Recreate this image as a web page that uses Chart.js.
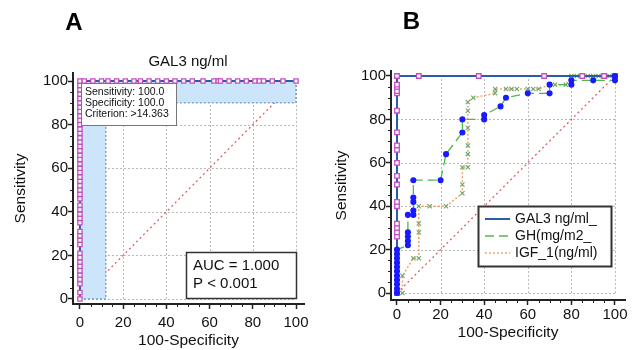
<!DOCTYPE html>
<html>
<head>
<meta charset="utf-8">
<script src="https://cdn.jsdelivr.net/npm/chart.js@4.4.1/dist/chart.umd.min.js"></script>
<style>
    body { margin: 0; background: #fff; width: 635px; height: 350px; overflow: hidden; position: relative; }
    canvas { position: absolute; top: 0; }
    #chartA { left: 0; }
    #chartB { left: 317px; }
</style>
</head>
<body>
<canvas id="chartA" width="317" height="350"></canvas>
<canvas id="chartB" width="318" height="350"></canvas>
<script>
const FONT = "'Liberation Sans', Arial, sans-serif";

const axisTicks = [0, 20, 40, 60, 80, 100];

// Panel A: GAL3 ng/ml ROC, first the vertical part (x = 0), then the top row (y = 100)
const gal3A_sens = [0, 3, 7, 9, 11, 13, 15, 17, 19, 21, 25, 27, 29, 31, 35, 37, 39, 41, 43, 46, 48, 50, 52, 54,
    56, 58, 60, 62, 64, 66, 68, 70, 72, 74, 76, 78, 80, 82, 84, 86, 88, 90, 92, 94, 96, 98];
const gal3A_fpr = [0, 2, 6, 10, 13, 17, 21, 25, 28, 32, 36, 40, 44, 48, 52, 57, 62, 64, 65, 69, 73, 77, 81, 83, 85, 89, 94, 100];

// Panel A: confidence region of the optimal cut-off
const ciX = [0, 12, 12, 100, 100, 0, 0];
const ciY = [0, 0, 90, 90, 100, 100, 0];

// Reference diagonal
const diagX = [0, 100];
const diagY = [0, 100];

// Panel B series
const gal3B_x = [0, 0, 0, 0, 0, 0, 0, 0, 0, 0, 0, 0, 0, 0, 0, 0, 0, 0, 0, 10, 37.5, 67.5, 85, 95, 100];
const gal3B_y = [0, 26, 28, 30, 32, 40, 42, 50, 54, 60, 66, 68, 74, 84, 92, 93, 95, 96, 100, 100, 100, 100, 100, 100, 100];

const ghB_x = [0, 0, 0, 0, 0, 0, 0, 0, 0, 0, 0, 5, 5, 5, 5, 5, 7.5, 7.5, 7.5, 7.5, 7.5, 20, 22.5, 30, 30,
    40, 40, 47.5, 50, 60, 70, 70, 80, 80, 90, 100, 100];
const ghB_y = [0, 2, 4, 6, 8, 10, 12, 14, 16, 18, 20, 22, 24, 26, 28, 36, 36, 38, 42, 44, 52, 52, 64, 74, 80,
    80, 82, 86, 90, 92, 92, 96, 96, 98, 98, 98, 100];

const igfB_x = [0, 2.5, 2.5, 7.5, 10, 10, 10, 10, 15, 22.5, 30, 30, 30, 32.5, 32.5, 32.5, 32.5, 32.5, 32.5, 35,
    45, 45, 50, 52.5, 55, 60, 62.5, 65, 70, 72.5, 77.5, 80, 82.5, 85, 87.5, 90, 92.5, 97.5, 100];
const igfB_y = [0, 0, 8, 16, 16, 28, 32, 40, 40, 40, 46, 50, 58, 58, 64, 68, 76, 84, 88, 90,
    92, 94, 94, 94, 94, 94, 94, 94, 96, 96, 96, 100, 100, 100, 100, 100, 100, 100, 100];

const seriesNamesB = ['GAL3 ng/ml_', 'GH(mg/m2_', 'IGF_1(ng/ml)'];

function toPoints(xs, ys) {
    return xs.map((x, i) => ({ x: x, y: ys[i] }));
}

const BLUE_LINE = '#2b5ca8';
const MAGENTA = '#c44cc4';
const TEXT = '#111';

// grid, minor ticks, panel letter, title, text boxes
const panelDeco = {
    id: 'panelDeco',
    beforeDatasetsDraw(chart, args, opts) {
        const ctx = chart.ctx;
        const xs = chart.scales.x, ys = chart.scales.y;
        const area = chart.chartArea;
        ctx.save();
        ctx.strokeStyle = '#b8b8b8';
        ctx.lineWidth = 1;
        ctx.setLineDash([2, 2]);
        [20, 40, 60, 80, 100].forEach(v => {
            const px = Math.round(xs.getPixelForValue(v)) + 0.5;
            ctx.beginPath();
            ctx.moveTo(px, ys.getPixelForValue(0));
            ctx.lineTo(px, ys.getPixelForValue(100));
            ctx.stroke();
        });
        [0, 20, 40, 60, 80].forEach(v => {
            const py = Math.round(ys.getPixelForValue(v)) + 0.5;
            ctx.beginPath();
            ctx.moveTo(xs.getPixelForValue(0), py);
            ctx.lineTo(xs.getPixelForValue(100), py);
            ctx.stroke();
        });
        // minor ticks
        ctx.setLineDash([]);
        ctx.strokeStyle = '#222';
        for (let v = 5; v < 100; v += 5) {
            if (v % 20 === 0) continue;
            const px = Math.round(xs.getPixelForValue(v)) + 0.5;
            ctx.beginPath();
            ctx.moveTo(px, area.bottom);
            ctx.lineTo(px, area.bottom + 3);
            ctx.stroke();
            const py = Math.round(ys.getPixelForValue(v)) + 0.5;
            ctx.beginPath();
            ctx.moveTo(area.left, py);
            ctx.lineTo(area.left - 3, py);
            ctx.stroke();
        }
        ctx.restore();
    },
    afterDraw(chart, args, opts) {
        const ctx = chart.ctx;
        ctx.save();
        ctx.fillStyle = '#000';
        ctx.textBaseline = 'middle';
        ctx.textAlign = 'center';
        ctx.font = 'bold 24px ' + FONT;
        ctx.fillText(opts.letter, opts.letterX, opts.letterY);
        if (opts.title) {
            ctx.font = '15px ' + FONT;
            ctx.fillStyle = TEXT;
            ctx.fillText(opts.title, opts.titleX, opts.titleY);
        }
        ctx.textAlign = 'left';
        (opts.boxes || []).forEach(b => {
            ctx.fillStyle = '#fff';
            ctx.fillRect(b.left, b.top, b.right - b.left, b.bottom - b.top);
            ctx.strokeStyle = b.border;
            ctx.lineWidth = b.borderWidth;
            ctx.strokeRect(b.left + 0.5, b.top + 0.5, b.right - b.left, b.bottom - b.top);
            ctx.font = b.size + 'px ' + FONT;
            b.lines.forEach((t, i) => {
                ctx.fillStyle = TEXT;
                ctx.fillText(t, b.textX, b.rows[i]);
                if (b.samples) {
                    const s = b.samples[i];
                    ctx.strokeStyle = s.color;
                    ctx.lineWidth = s.width;
                    ctx.setLineDash(s.dash);
                    ctx.beginPath();
                    ctx.moveTo(b.sampleX0, b.rows[i]);
                    ctx.lineTo(b.sampleX1, b.rows[i]);
                    ctx.stroke();
                    ctx.setLineDash([]);
                }
            });
        });
        ctx.restore();
    }
};

function makeScales(L) {
    return {
        x: {
            type: 'linear',
            min: L.xMin,
            max: L.xMax,
            afterBuildTicks: s => { s.ticks = axisTicks.map(v => ({ value: v })); },
            afterFit: s => { s.height = L.xAxisH; },
            grid: { display: true, drawOnChartArea: false, drawTicks: true, tickLength: 5, tickColor: '#222', tickWidth: 1.5 },
            border: { display: true, color: '#222', width: 2 },
            ticks: { font: { family: FONT, size: 15 }, color: TEXT, padding: L.xPad, maxRotation: 0, autoSkip: false },
            title: { display: true, text: '100-Specificity', font: { family: FONT, size: 15.5 }, color: TEXT, padding: { top: 0, bottom: L.xTitlePad } }
        },
        y: {
            type: 'linear',
            min: L.yMin,
            max: L.yMax,
            afterBuildTicks: s => { s.ticks = axisTicks.map(v => ({ value: v })); },
            afterFit: s => { s.width = L.yAxisW; },
            grid: { display: true, drawOnChartArea: false, drawTicks: true, tickLength: 5, tickColor: '#222', tickWidth: 1.5 },
            border: { display: true, color: '#222', width: 2 },
            ticks: { font: { family: FONT, size: 15 }, color: TEXT, padding: 0, autoSkip: false },
            title: { display: true, text: 'Sensitivity', font: { family: FONT, size: 15.5 }, color: TEXT, padding: { top: L.yTitlePad, bottom: 0 } }
        }
    };
}

const diagDataset = {
    label: 'diag',
    data: toPoints(diagX, diagY),
    borderColor: '#dd5555',
    borderWidth: 1.2,
    borderDash: [2, 3],
    pointRadius: 0,
    fill: false
};

// Panel A
const gal3A_points = gal3A_sens.map(y => ({ x: 0, y: y })).concat(gal3A_fpr.map(x => ({ x: x, y: 100 })));

new Chart(document.getElementById('chartA'), {
    type: 'line',
    data: {
        datasets: [
            {
                label: 'GAL3 ng/ml',
                data: gal3A_points,
                borderColor: BLUE_LINE,
                borderWidth: 2,
                pointStyle: 'rect',
                pointRadius: 3,
                pointBorderColor: MAGENTA,
                pointBackgroundColor: '#fff',
                pointBorderWidth: 1.3,
                fill: false
            },
            {
                label: 'ci',
                data: toPoints(ciX, ciY),
                borderColor: '#4b7fc8',
                borderWidth: 1,
                borderDash: [2, 2],
                backgroundColor: '#cde5fb',
                pointRadius: 0,
                fill: 'shape'
            },
            diagDataset
        ]
    },
    options: {
        responsive: false,
        animation: false,
        devicePixelRatio: 1,
        layout: { padding: { left: 0, right: 13, top: 73, bottom: 0 } },
        scales: makeScales({ xMin: -3.2, xMax: 103.7, yMin: -2.3, yMax: 103.7, xAxisH: 46, yAxisW: 73, xPad: 5, xTitlePad: 0, yTitlePad: 11 }),
        plugins: {
            legend: { display: false },
            tooltip: { enabled: false },
            panelDeco: {
                letter: 'A', letterX: 74, letterY: 23,
                title: 'GAL3 ng/ml', titleX: 188, titleY: 62,
                boxes: [
                    {
                        left: 81, top: 83, right: 176, bottom: 125, border: '#777', borderWidth: 1,
                        size: 10.5, textX: 85, rows: [92, 103, 114],
                        lines: ['Sensitivity: 100.0', 'Specificity: 100.0', 'Criterion: >14.363']
                    },
                    {
                        left: 186, top: 252, right: 296, bottom: 298, border: '#333', borderWidth: 1.5,
                        size: 15, textX: 193, rows: [266, 284],
                        lines: ['AUC = 1.000', 'P < 0.001']
                    }
                ]
            }
        }
    },
    plugins: [panelDeco]
});

// Panel B
new Chart(document.getElementById('chartB'), {
    type: 'line',
    data: {
        datasets: [
            {
                label: seriesNamesB[1],
                data: toPoints(ghB_x, ghB_y),
                borderColor: '#4dba4d',
                borderWidth: 1.3,
                borderDash: [9, 5],
                pointStyle: 'circle',
                pointRadius: 2.4,
                pointBorderColor: '#1a1aff',
                pointBackgroundColor: '#1a1aff',
                fill: false
            },
            {
                label: seriesNamesB[0],
                data: toPoints(gal3B_x, gal3B_y),
                borderColor: BLUE_LINE,
                borderWidth: 2,
                pointStyle: 'rect',
                pointRadius: 3.2,
                pointBorderColor: MAGENTA,
                pointBackgroundColor: '#fff',
                pointBorderWidth: 1.3,
                fill: false
            },
            {
                label: seriesNamesB[2],
                data: toPoints(igfB_x, igfB_y),
                borderColor: '#f5a36a',
                borderWidth: 1.5,
                borderDash: [2, 2],
                pointStyle: 'crossRot',
                pointRadius: 3,
                pointBorderColor: '#6aa86a',
                pointBorderWidth: 1.1,
                fill: false
            },
            diagDataset
        ]
    },
    options: {
        responsive: false,
        animation: false,
        devicePixelRatio: 1,
        layout: { padding: { left: 0, right: 10, top: 71, bottom: 0 } },
        scales: makeScales({ xMin: -2.75, xMax: 104.6, yMin: -3.2, yMax: 102.3, xAxisH: 50, yAxisW: 74, xPad: 1, xTitlePad: 7.5, yTitlePad: 15.4 }),
        plugins: {
            legend: { display: false },
            tooltip: { enabled: false },
            panelDeco: {
                letter: 'B', letterX: 94.5, letterY: 22,
                boxes: [
                    {
                        left: 161, top: 206, right: 294, bottom: 266, border: '#333', borderWidth: 2,
                        size: 14, textX: 198, rows: [219, 236, 253],
                        lines: seriesNamesB,
                        sampleX0: 168, sampleX1: 193,
                        samples: [
                            { color: BLUE_LINE, width: 2, dash: [] },
                            { color: '#4dba4d', width: 1.5, dash: [9, 5] },
                            { color: '#f5a36a', width: 1.5, dash: [2, 2] }
                        ]
                    }
                ]
            }
        }
    },
    plugins: [panelDeco]
});
</script>
</body>
</html>
